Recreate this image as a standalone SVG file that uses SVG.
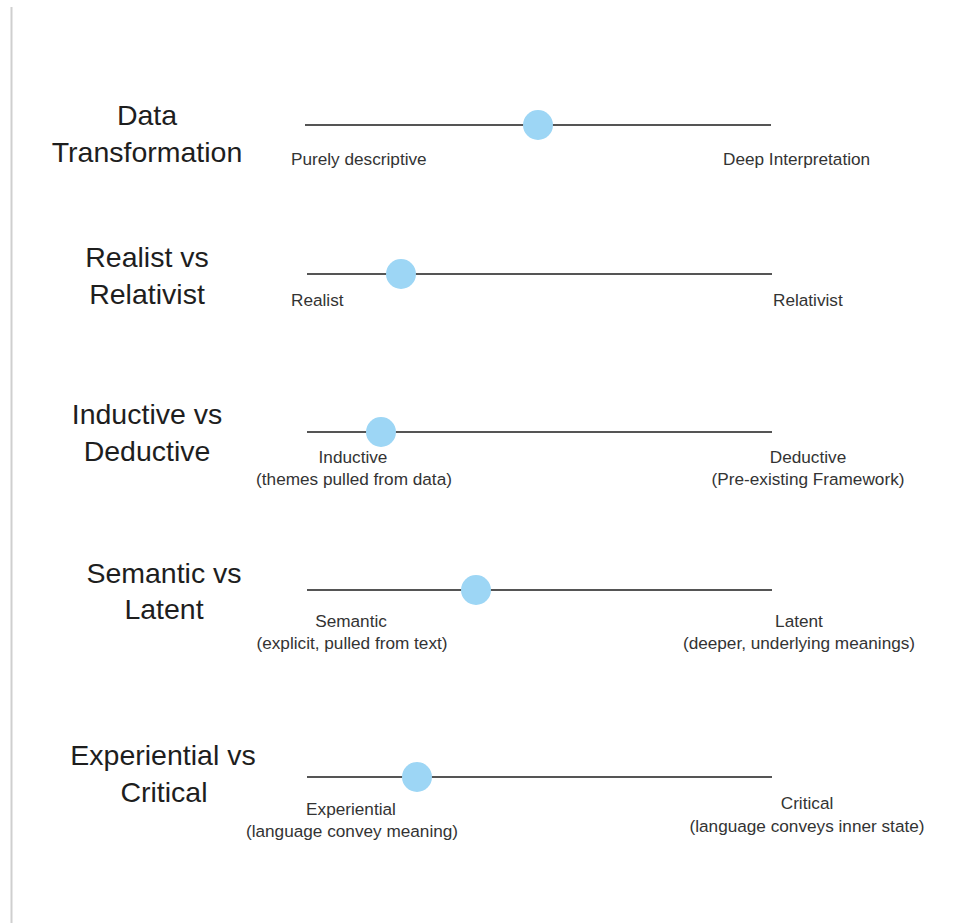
<svg xmlns="http://www.w3.org/2000/svg" width="972" height="923" viewBox="0 0 972 923">
<style>
.title{font-family:"Liberation Sans",Arial,sans-serif;font-size:28.5px;fill:#1e1e1e;text-anchor:middle}
.lbl{font-family:"Liberation Sans",Arial,sans-serif;font-size:17.2px;fill:#333}
.mid{text-anchor:middle}
.track{stroke:#555;stroke-width:2}
.knob{fill:#9dd6f5}
</style>
<rect width="972" height="923" fill="#fff"/>
<line x1="11.5" y1="7" x2="11.5" y2="923" stroke="#cfcfcf" stroke-width="2"/>
<g id="connectors">
<line class="track" x1="305" y1="125" x2="771" y2="125"/>
<line class="track" x1="307" y1="274" x2="772" y2="274"/>
<line class="track" x1="307" y1="432" x2="772" y2="432"/>
<line class="track" x1="307" y1="590" x2="772" y2="590"/>
<line class="track" x1="307" y1="777" x2="772" y2="777"/>
</g>
<g id="row1">
<text class="title" x="147" y="125">Data</text>
<text class="title" x="147" y="162">Transformation</text>
<circle class="knob" cx="538" cy="125" r="15"/>
<text class="lbl" x="291" y="165">Purely descriptive</text>
<text class="lbl" x="723" y="165">Deep Interpretation</text>
</g>
<g id="row2">
<text class="title" x="147" y="267">Realist vs</text>
<text class="title" x="147" y="304">Relativist</text>
<circle class="knob" cx="401" cy="274" r="15"/>
<text class="lbl" x="291" y="306">Realist</text>
<text class="lbl" x="773" y="306">Relativist</text>
</g>
<g id="row3">
<text class="title" x="147" y="424">Inductive vs</text>
<text class="title" x="147" y="461">Deductive</text>
<circle class="knob" cx="381" cy="432" r="15"/>
<text class="lbl mid" x="353" y="463">Inductive</text>
<text class="lbl mid" x="354" y="485">(themes pulled from data)</text>
<text class="lbl mid" x="808" y="463">Deductive</text>
<text class="lbl mid" x="808" y="485">(Pre-existing Framework)</text>
</g>
<g id="row4">
<text class="title" x="164" y="583">Semantic vs</text>
<text class="title" x="164" y="619">Latent</text>
<circle class="knob" cx="476" cy="590" r="15"/>
<text class="lbl mid" x="351" y="627">Semantic</text>
<text class="lbl mid" x="352" y="649">(explicit, pulled from text)</text>
<text class="lbl mid" x="799" y="627">Latent</text>
<text class="lbl mid" x="799" y="649">(deeper, underlying meanings)</text>
</g>
<g id="row5">
<text class="title" x="163" y="765">Experiential vs</text>
<text class="title" x="164" y="802">Critical</text>
<circle class="knob" cx="417" cy="777" r="15"/>
<text class="lbl mid" x="351" y="815">Experiential</text>
<text class="lbl mid" x="352" y="837">(language convey meaning)</text>
<text class="lbl mid" x="807" y="809">Critical</text>
<text class="lbl mid" x="807" y="832">(language conveys inner state)</text>
</g>
</svg>
